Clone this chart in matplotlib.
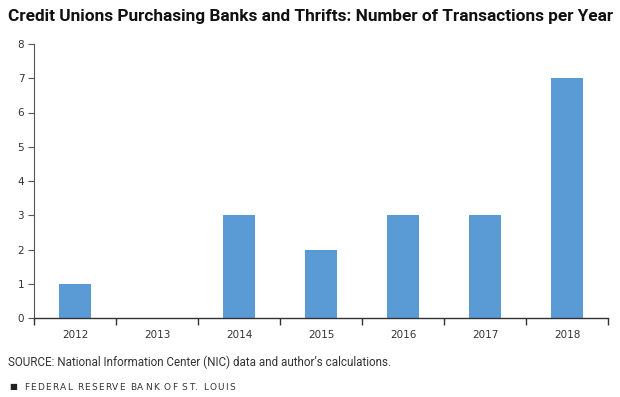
import matplotlib
matplotlib.use("Agg")
import matplotlib.pyplot as plt

# data
years = ["2012", "2013", "2014", "2015", "2016", "2017", "2018"]
counts = [1, 0, 3, 2, 3, 3, 7]

title = "Credit Unions Purchasing Banks and Thrifts: Number of Transactions per Year"
source = "SOURCE: National Information Center (NIC) data and author\u2019s calculations."
footer = "FEDERAL RESERVE BANK OF ST. LOUIS"

bar_color = "#5B9BD5"
grey = "#555555"

fig = plt.figure(figsize=(6.2, 3.97), dpi=100)
ax = fig.add_axes([34 / 620, 79 / 397, 574 / 620, 274 / 397])

x = list(range(len(years)))
ax.bar(x, counts, width=0.4, color=bar_color, zorder=2)

ax.set_xlim(-0.5, len(years) - 0.5)
ax.set_ylim(0, 8)
ax.set_yticks(range(0, 9))
ax.set_xticks(x)
ax.set_xticklabels(years)
ax.set_xticks([i - 0.5 for i in range(len(years) + 1)], minor=True)

for s in ["top", "right"]:
    ax.spines[s].set_visible(False)
ax.spines["left"].set_color(grey)
ax.spines["bottom"].set_color("#333333")
ax.spines["left"].set_linewidth(0.8)
ax.spines["bottom"].set_linewidth(1.0)

ax.tick_params(axis="x", which="major", length=0, labelsize=7.5, labelcolor="#333333", pad=9)
ax.tick_params(axis="x", which="minor", length=5, width=1.0, color="#333333", direction="out")
ax.tick_params(axis="y", length=4, width=0.8, color=grey, labelsize=7.5, labelcolor="#333333", pad=3)

fig.canvas.draw()
renderer = fig.canvas.get_renderer()

# title, shrunk to fit the reference width
t = fig.text(8 / 620, 1 - 17 / 397, title, fontsize=13.5, fontweight="bold",
             family="Roboto", va="center", ha="left", color="#111111")
w = t.get_window_extent(renderer).width
t.set_fontsize(13.5 * 604 / w)

s = fig.text(8 / 620, 1 - 362 / 397, source, fontsize=8, color="#333333",
             family="Roboto", va="center", ha="left")
w = s.get_window_extent(renderer).width
s.set_fontsize(8 * 384 / w)

# footer with letter spacing
fig.text(9 / 620, 1 - 387 / 397, "\u25A0", fontsize=6, color="#222222", va="center", ha="left")
xpos = 24
for ch in footer:
    c = fig.text(xpos / 620, 1 - 387 / 397, ch, fontsize=6.5, color="#333333",
                 va="center", ha="left")
    cw = c.get_window_extent(renderer).width if ch != " " else 2.5
    xpos += cw + 1.2

fig.savefig("out.png", dpi=100)
